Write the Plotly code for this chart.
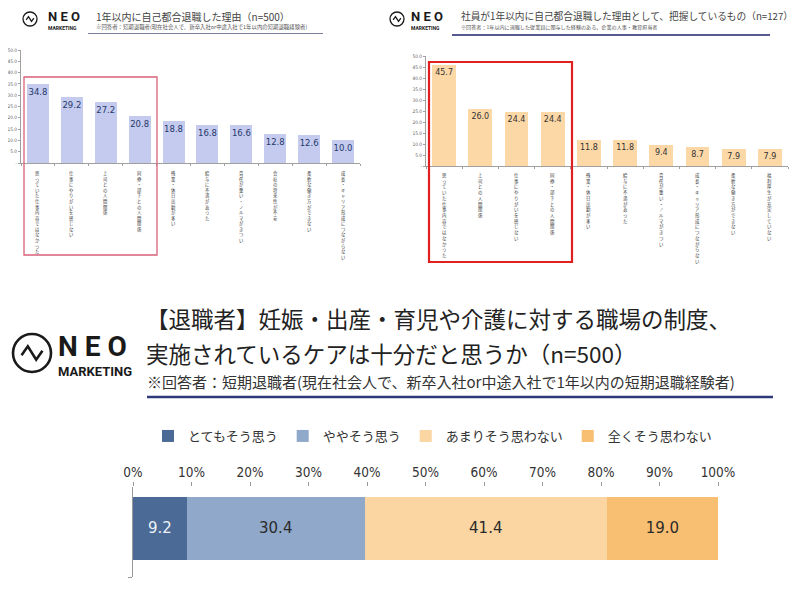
import plotly.graph_objects as go

W, H = 800, 590
OFF = 8  # page body margin of the browser
def px(x): return (x - OFF) / W
def py(y): return 1 - (y - OFF) / H

JP = "Noto Sans CJK JP, Noto Sans, sans-serif"

# ---------------- data ----------------
c1_title = "1年以内に自己都合退職した理由（n=500）"
c1_note = "※回答者：短期退職者(現在社会人で、新卒入社or中途入社で1年以内の短期退職経験者)"
c1_cats = ["思っていた仕事内容ではなかった", "仕事にやりがいを感じない", "上司との人間関係",
           "同僚・部下との人間関係", "残業・休日出勤が多い", "給与に不満があった",
           "責任が重い・ノルマがきつい", "会社の将来性が不安", "柔軟な働き方ができない",
           "成長・キャリア形成につながらない"]
c1_vals = [34.8, 29.2, 27.2, 20.8, 18.8, 16.8, 16.6, 12.8, 12.6, 10.0]

c2_title = "社員が1年以内に自己都合退職した理由として、把握しているもの（n=127）"
c2_note = "※回答者：1年以内に退職した従業員に関与した経験のある、企業の人事・教育担当者"
c2_cats = ["思っていた仕事内容ではなかった", "上司との人間関係", "仕事にやりがいを感じない",
           "同僚・部下との人間関係", "残業・休日出勤が多い", "給与に不満があった",
           "責任が重い・ノルマがきつい", "成長・キャリア形成につながらない",
           "柔軟な働き方ができない", "福利厚生が充実していない"]
c2_vals = [45.7, 26.0, 24.4, 24.4, 11.8, 11.8, 9.4, 8.7, 7.9, 7.9]

c3_title1 = "【退職者】妊娠・出産・育児や介護に対する職場の制度、"
c3_title2 = "実施されているケアは十分だと思うか（n=500）"
c3_note = "※回答者：短期退職者(現在社会人で、新卒入社or中途入社で1年以内の短期退職経験者)"
c3_series = ["とてもそう思う", "ややそう思う", "あまりそう思わない", "全くそう思わない"]
c3_vals = [9.2, 30.4, 41.4, 19.0]
c3_colors = ["#4b6a95", "#90a8c9", "#fbd6a2", "#f8bf72"]
c3_textcolors = ["#eef2f8", "#2b2b2b", "#2b2b2b", "#2b2b2b"]

y_tickvals = [0, 5, 10, 15, 20, 25, 30, 35, 40, 45, 50]
y_ticktext = ["-"] + [f"{v:.1f}" for v in y_tickvals[1:]]
x3_tickvals = [0, 10, 20, 30, 40, 50, 60, 70, 80, 90, 100]
x3_ticktext = [f"{v}%" for v in x3_tickvals]

# ---------------- traces ----------------
fig = go.Figure()
fig.add_trace(go.Bar(
    x=c1_cats, y=c1_vals, xaxis="x", yaxis="y", width=0.65,
    marker=dict(color="#c5cbee", line=dict(width=0)),
    text=[f"{v:.1f}" for v in c1_vals], textposition="inside", insidetextanchor="end",
    textangle=0, constraintext="none",
    textfont=dict(size=8.5, color="#24386b", family="DejaVu Sans"), showlegend=False,
    hoverinfo="skip"))
fig.add_trace(go.Bar(
    x=c2_cats, y=c2_vals, xaxis="x2", yaxis="y2", width=0.66,
    marker=dict(color="#fdd8a7", line=dict(width=0)),
    text=[f"{v:.1f}" for v in c2_vals], textposition="inside", insidetextanchor="end",
    textangle=0, constraintext="none",
    textfont=dict(size=8, color="#333333", family="DejaVu Sans"), showlegend=False,
    hoverinfo="skip"))
for name, v, col, tc in zip(c3_series, c3_vals, c3_colors, c3_textcolors):
    fig.add_trace(go.Bar(
        x=[v], y=[0.54], orientation="h", width=0.7, name=name,
        xaxis="x3", yaxis="y3", marker=dict(color=col, line=dict(width=0)),
        text=[f"{v:.1f}"], textposition="inside", insidetextanchor="middle",
        textangle=0, constraintext="none",
        textfont=dict(size=15, color=tc, family="DejaVu Sans"), hoverinfo="skip"))

# ---------------- shapes / annotations ----------------
shapes = []
ann = []

def logo(cx, cy, r, lw, neo_x, neo_y, neo_size, mk_y, mk_size):
    shapes.append(dict(type="circle", xref="paper", yref="paper",
                       x0=px(cx - r), x1=px(cx + r), y0=py(cy + r), y1=py(cy - r),
                       line=dict(color="#1a1a1a", width=lw)))
    pts = [(cx - 0.55 * r, cy + 0.12 * r), (cx - 0.22 * r, cy - 0.35 * r),
           (cx + 0.22 * r, cy + 0.35 * r), (cx + 0.55 * r, cy - 0.12 * r)]
    path = "M " + " L ".join(f"{px(a)},{py(b)}" for a, b in pts)
    shapes.append(dict(type="path", xref="paper", yref="paper", path=path,
                       line=dict(color="#1a1a1a", width=lw)))
    ann.append(dict(x=px(neo_x), y=py(neo_y), xref="paper", yref="paper", text="<b>N E O</b>",
                    showarrow=False, xanchor="left", yanchor="middle",
                    font=dict(family="Roboto, DejaVu Sans", size=neo_size, color="#1a1a1a")))
    ann.append(dict(x=px(neo_x), y=py(mk_y), xref="paper", yref="paper", text="<b>MARKETING</b>",
                    showarrow=False, xanchor="left", yanchor="middle",
                    font=dict(family="Roboto, DejaVu Sans", size=mk_size, color="#1a1a1a")))

def text(x, y, s, size, color="#333333", xanchor="left"):
    ann.append(dict(x=px(x), y=py(y), xref="paper", yref="paper", text=s, showarrow=False,
                    xanchor=xanchor, yanchor="middle", font=dict(family=JP, size=size, color=color)))

def hline(x0, x1, y, color, w):
    shapes.append(dict(type="line", xref="paper", yref="paper", x0=px(x0), x1=px(x1),
                       y0=py(y), y1=py(y), line=dict(color=color, width=w)))

def rect(x0, x1, y0, y1, color, w):
    shapes.append(dict(type="rect", xref="paper", yref="paper", x0=px(x0), x1=px(x1),
                       y0=py(y1), y1=py(y0), line=dict(color=color, width=w)))

# chart 1 header
logo(30, 19, 7, 1.3, 46, 17, 13, 28.5, 5)
text(94, 16, c1_title, 10, "#444444")
text(94, 27, c1_note, 5.4, "#555555")
hline(88, 323, 33.5, "#7a7a99", 1)
# chart 2 header
logo(397, 19, 7, 1.3, 409, 17, 13, 28.5, 5)
text(459, 16, c2_title, 9.7, "#444444")
text(459, 27, c2_note, 5.1, "#555555")
hline(452, 770, 35, "#1f236e", 1.5)
# chart 3 header
logo(32, 353, 19, 2.6, 56, 346, 28, 371, 13)
text(144, 318, c3_title1, 22.5, "#222222")
text(144, 353, c3_title2, 22.5, "#222222")
text(145, 381, c3_note, 15, "#333333")
hline(147, 773, 397, "#2e3a78", 2.5)

# red boxes
rect(24, 157, 77, 255, "#d9607a", 1.3)
rect(429, 572, 62, 262, "#e0201f", 2.2)

# vertical category labels (one stacked annotation per category)
for cats, xr, ytop, fs in [(c1_cats, "x", 169, 4.3), (c2_cats, "x2", 171, 4.4)]:
    for cat in cats:
        ann.append(dict(x=cat, xref=xr, y=py(ytop), yref="paper", text="<br>".join(cat),
                        showarrow=False, xanchor="center", yanchor="top", borderpad=0,
                        font=dict(family=JP, size=fs, color="#3a3a3a")))

ax_small = dict(showgrid=False, zeroline=False, showline=True, linecolor="#a0a0a0",
                linewidth=1, ticks="outside", tickcolor="#a0a0a0", ticklen=2, automargin=False)
ytickfont = dict(size=4.8, color="#666666", family="DejaVu Sans Condensed, DejaVu Sans")

fig.update_layout(
    width=W, height=H, margin=dict(l=0, r=0, t=0, b=0, autoexpand=False),
    paper_bgcolor="white", plot_bgcolor="rgba(0,0,0,0)",
    barmode="stack", bargap=0.3,
    font=dict(family=JP),
    xaxis=dict(domain=[px(21), px(360)], anchor="y", range=[-0.5, 9.5],
               tickson="boundaries", showticklabels=False, **ax_small),
    yaxis=dict(domain=[py(163), py(50)], anchor="x", range=[0, 50],
               tickvals=y_tickvals, ticktext=y_ticktext, tickfont=ytickfont, **ax_small),
    xaxis2=dict(domain=[px(426), px(788)], anchor="y2", range=[-0.5, 9.5],
                tickson="boundaries", showticklabels=False, **ax_small),
    yaxis2=dict(domain=[py(166), py(56)], anchor="x2", range=[0, 50],
                tickvals=y_tickvals, ticktext=y_ticktext, tickfont=ytickfont, **ax_small),
    xaxis3=dict(domain=[px(133), px(718)], anchor="y3", side="top", range=[0, 100],
                tickvals=x3_tickvals, ticktext=x3_ticktext, showgrid=False, zeroline=False,
                showline=False, ticks="outside", ticklen=4, tickcolor="#999999", automargin=False,
                tickfont=dict(size=13.5, color="#333333", family="DejaVu Sans Condensed, DejaVu Sans")),
    yaxis3=dict(domain=[py(577), py(487)], anchor="x3", range=[0, 1], showgrid=False,
                zeroline=False, showline=True, linecolor="#999999", linewidth=1,
                tickvals=[0], ticks="outside", ticklen=4, tickcolor="#999999",
                showticklabels=False, automargin=False),
    legend=dict(orientation="h", x=px(148), y=py(436), xanchor="left", yanchor="middle",
                font=dict(size=13, color="#333333", family=JP), itemwidth=30,
                traceorder="normal", bgcolor="rgba(0,0,0,0)"),
    shapes=shapes, annotations=ann,
)

fig.write_html("out.html")
